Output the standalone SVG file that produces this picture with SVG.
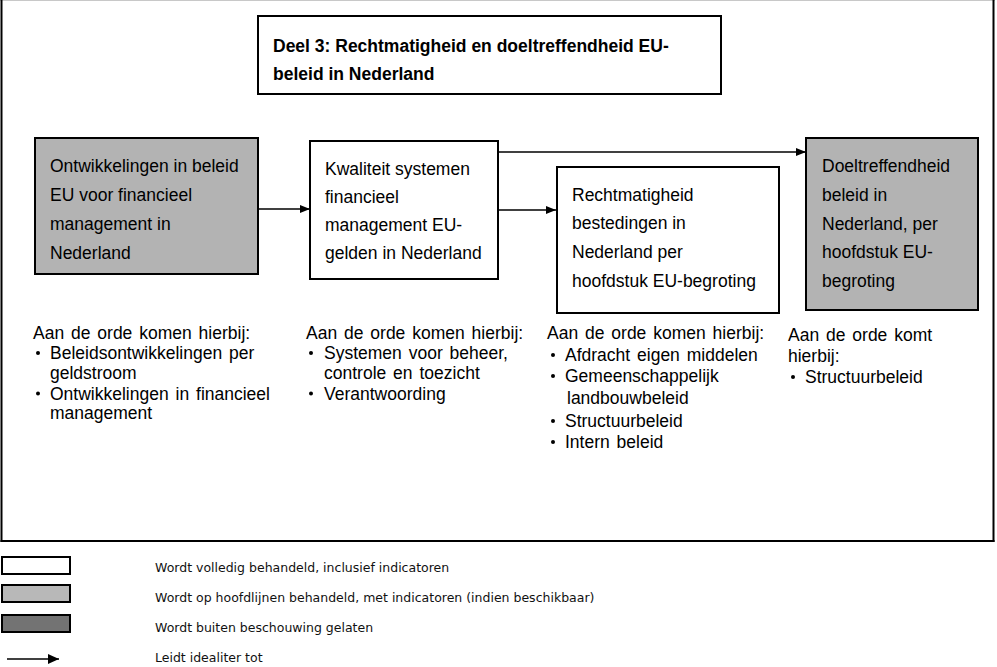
<svg xmlns="http://www.w3.org/2000/svg" width="997" height="667" viewBox="0 0 997 667">
<style>
.box{stroke:#000;stroke-width:2}
.w{fill:#fff}
.g{fill:#b3b3b3}
.d{fill:#737373}
.t{font-family:"Liberation Sans",Arial,sans-serif;font-size:17.5px;fill:#000}
.n{font-family:"Liberation Sans",Arial,sans-serif;font-size:17.5px;word-spacing:2px;fill:#000}
.tb{font-family:"Liberation Sans",Arial,sans-serif;font-size:17.5px;font-weight:bold;fill:#000}
.lg{font-family:"DejaVu Sans",Verdana,sans-serif;font-size:12.5px;fill:#111}
.c{stroke:#000;stroke-width:1.5;fill:none}
</style>
<defs>
<marker id="ah" viewBox="0 0 10 8" refX="10" refY="4" markerWidth="10" markerHeight="8" markerUnits="userSpaceOnUse" orient="auto">
<path d="M0,0 L10,4 L0,8 Z" fill="#000"/>
</marker>
<marker id="ahl" viewBox="0 0 11 10" refX="11" refY="5" markerWidth="11" markerHeight="10" markerUnits="userSpaceOnUse" orient="auto">
<path d="M0,0 L11,5 L0,10 Z" fill="#000"/>
</marker>
</defs>
<rect width="997" height="667" fill="#fff"/>
<g id="frame">
<line x1="0" y1="0.5" x2="995" y2="0.5" stroke="#c8c8c8" stroke-width="1"/>
<line x1="1.5" y1="0" x2="1.5" y2="542" stroke="#000" stroke-width="2"/>
<line x1="993.5" y1="0" x2="993.5" y2="542" stroke="#000" stroke-width="2"/>
<line x1="0.5" y1="541" x2="994.5" y2="541" stroke="#000" stroke-width="2"/>
</g>
<g id="title">
<rect class="box w" x="258" y="16" width="463" height="78"/>
<text class="tb" x="273" y="52">Deel 3: Rechtmatigheid en doeltreffendheid EU-</text>
<text class="tb" x="273" y="80">beleid in Nederland</text>
</g>
<g id="node1">
<rect class="box g" x="35" y="138" width="223" height="136"/>
<text class="t" x="50" y="172">Ontwikkelingen in beleid</text>
<text class="t" x="50" y="201">EU voor financieel</text>
<text class="t" x="50" y="230">management in</text>
<text class="t" x="50" y="259">Nederland</text>
</g>
<g id="node2">
<rect class="box w" x="310" y="141" width="188" height="138"/>
<text class="t" x="325" y="175">Kwaliteit systemen</text>
<text class="t" x="325" y="203">financieel</text>
<text class="t" x="325" y="231">management EU-</text>
<text class="t" x="325" y="259">gelden in Nederland</text>
</g>
<g id="node3">
<rect class="box w" x="557" y="167" width="222" height="146"/>
<text class="t" x="572" y="201">Rechtmatigheid</text>
<text class="t" x="572" y="229">bestedingen in</text>
<text class="t" x="572" y="258">Nederland per</text>
<text class="t" x="572" y="287">hoofdstuk EU-begroting</text>
</g>
<g id="node4">
<rect class="box g" x="806" y="138" width="172" height="172"/>
<text class="t" x="822" y="172">Doeltreffendheid</text>
<text class="t" x="822" y="201">beleid in</text>
<text class="t" x="822" y="230">Nederland, per</text>
<text class="t" x="822" y="258">hoofdstuk EU-</text>
<text class="t" x="822" y="287">begroting</text>
</g>
<g id="connectors">
<line class="c" x1="259" y1="209" x2="310" y2="209" marker-end="url(#ah)"/>
<line class="c" x1="499" y1="152" x2="806" y2="152" marker-end="url(#ah)"/>
<line class="c" x1="499" y1="210" x2="556" y2="210" marker-end="url(#ah)"/>
</g>
<g id="notes1">
<text class="n" x="33" y="339">Aan de orde komen hierbij:</text>
<circle cx="38" cy="353" r="2"/>
<text class="n" x="50" y="359">Beleidsontwikkelingen per</text>
<text class="n" x="50" y="378.5">geldstroom</text>
<circle cx="38" cy="393.5" r="2"/>
<text class="n" x="50" y="399.5">Ontwikkelingen in financieel</text>
<text class="n" x="50" y="419">management</text>
</g>
<g id="notes2">
<text class="n" x="306" y="339">Aan de orde komen hierbij:</text>
<circle cx="311" cy="353" r="2"/>
<text class="n" x="324" y="359">Systemen voor beheer,</text>
<text class="n" x="324" y="378.5">controle en toezicht</text>
<circle cx="311" cy="393.5" r="2"/>
<text class="n" x="324" y="399.5">Verantwoording</text>
</g>
<g id="notes3">
<text class="n" x="547" y="339">Aan de orde komen hierbij:</text>
<circle cx="553" cy="355" r="2"/>
<text class="n" x="565" y="361">Afdracht eigen middelen</text>
<circle cx="553" cy="376" r="2"/>
<text class="n" x="565" y="382">Gemeenschappelijk</text>
<text class="n" x="567" y="404">landbouwbeleid</text>
<circle cx="553" cy="421" r="2"/>
<text class="n" x="565" y="427">Structuurbeleid</text>
<circle cx="553" cy="442" r="2"/>
<text class="n" x="565" y="448">Intern beleid</text>
</g>
<g id="notes4">
<text class="n" x="788" y="341">Aan de orde komt</text>
<text class="n" x="788" y="362">hierbij:</text>
<circle cx="793" cy="377" r="2"/>
<text class="n" x="805" y="383">Structuurbeleid</text>
</g>
<g id="legend">
<rect class="box w" x="2" y="557" width="68" height="17"/>
<rect class="box" x="2" y="585" width="68" height="17" fill="#b8b8b8"/>
<rect class="box d" x="2" y="615" width="68" height="17"/>
<line class="c" x1="7" y1="659" x2="59" y2="659" marker-end="url(#ahl)"/>
<text class="lg" x="155" y="572">Wordt volledig behandeld, inclusief indicatoren</text>
<text class="lg" x="155" y="602">Wordt op hoofdlijnen behandeld, met indicatoren (indien beschikbaar)</text>
<text class="lg" x="155" y="632">Wordt buiten beschouwing gelaten</text>
<text class="lg" x="155" y="662">Leidt idealiter tot</text>
</g>
</svg>
